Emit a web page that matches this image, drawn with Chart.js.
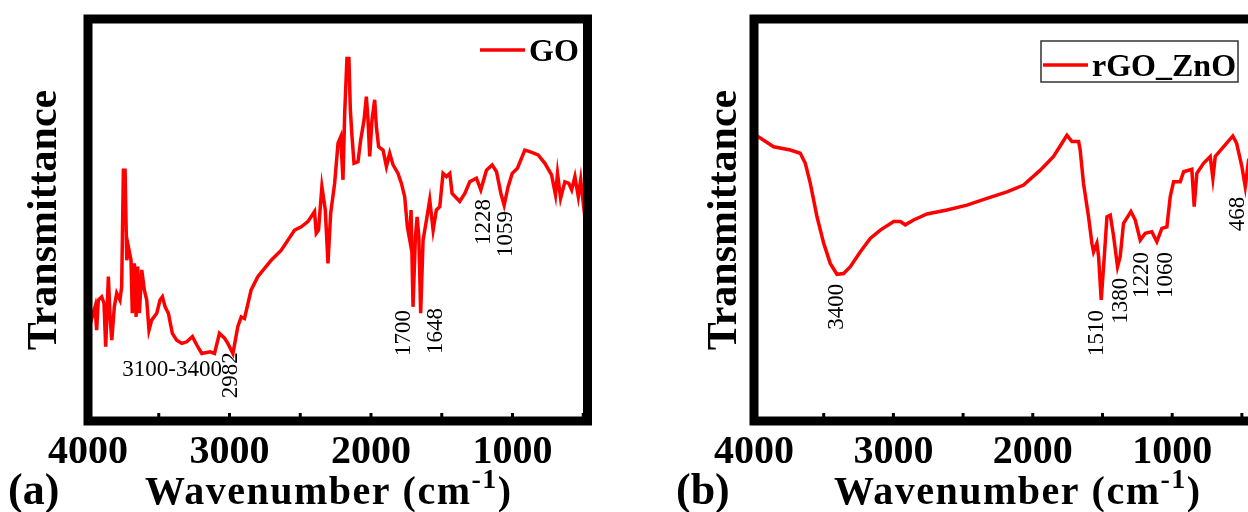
<!DOCTYPE html>
<html lang="en">
<head>
<meta charset="utf-8">
<title>FTIR GO / rGO_ZnO</title>
<script src="https://cdn.jsdelivr.net/npm/chart.js@4.4.1/dist/chart.umd.min.js"></script>
<style>
  html, body { margin: 0; padding: 0; background: #fff; overflow: hidden; }
  #wrap { position: relative; width: 1248px; height: 512px; overflow: hidden; }
  canvas { position: absolute; top: 0; }
  #chartA { left: 0; }
  #chartB { left: 620px; }
</style>
</head>
<body>
<div id="wrap">
  <canvas id="chartA" width="620" height="512"></canvas>
  <canvas id="chartB" width="700" height="512"></canvas>
</div>
<script>
"use strict";

// Datos del espectro GO (numero de onda, transmitancia relativa)
var goWave = [4000, 3986, 3970, 3950, 3939, 3927, 3903, 3887, 3875, 3856, 3844, 3832, 3814, 3797, 3774, 3762,
    3750, 3738, 3726, 3715, 3696, 3687, 3672, 3660, 3649, 3637, 3620, 3602, 3585, 3569, 3550, 3514, 3491, 3474,
    3455, 3432, 3404, 3373, 3337, 3302, 3262, 3231, 3196, 3137, 3106, 3071, 3035, 3012, 2976, 2941, 2917, 2894,
    2847, 2800, 2705, 2634, 2540, 2493, 2446, 2399, 2387, 2371, 2347, 2323, 2304, 2285, 2257, 2233, 2214, 2198,
    2186, 2170, 2156, 2146, 2134, 2120, 2092, 2073, 2049, 2033, 2021, 2009, 1993, 1974, 1962, 1946, 1915, 1891,
    1868, 1844, 1809, 1785, 1762, 1743, 1726, 1717, 1703, 1686, 1674, 1662, 1649, 1632, 1608, 1585, 1561, 1538,
    1514, 1491, 1467, 1443, 1427, 1373, 1337, 1302, 1255, 1224, 1184, 1144, 1113, 1082, 1059, 1031, 1002, 965,
    913, 878, 819, 771, 724, 696, 682, 660, 630, 602, 582, 559, 535, 518, 500, 481, 470];
var goTrans = [22.6, 28.4, 25.9, 28.4, 22.6, 30.1, 30.9, 29.3, 18.5, 35.9, 25.9, 20.1, 28.4, 31.8, 30.1, 33.4,
    62.4, 62.4, 40.0, 43.4, 40.0, 26.8, 39.2, 25.9, 38.4, 26.8, 37.6, 32.6, 30.1, 22.6, 25.1, 26.8, 30.1, 30.9,
    28.4, 26.8, 21.8, 20.1, 19.3, 19.7, 21.0, 18.9, 16.8, 17.2, 16.8, 21.8, 20.6, 19.3, 16.8, 23.5, 25.9, 25.5,
    32.6, 35.9, 40.0, 42.5, 47.5, 48.3, 49.6, 52.1, 46.7, 47.5, 58.3, 52.5, 39.2, 51.7, 59.1, 69.1, 70.7, 60.0,
    76.5, 90.2, 90.2, 77.4, 70.7, 64.1, 64.5, 69.9, 74.9, 80.7, 74.9, 65.8, 74.9, 79.9, 73.2, 68.2, 67.4, 63.3,
    66.6, 63.7, 61.6, 59.1, 55.8, 48.3, 45.0, 52.5, 28.4, 45.9, 50.8, 45.9, 26.8, 45.0, 50.0, 55.0, 47.5, 52.5,
    53.3, 61.6, 60.8, 61.6, 56.6, 54.6, 56.6, 59.5, 60.4, 57.5, 62.4, 63.7, 62.0, 56.6, 53.7, 58.3, 61.6, 62.9,
    67.4, 67.0, 66.2, 64.1, 61.2, 56.2, 61.6, 55.4, 59.5, 59.1, 57.5, 60.8, 55.8, 60.0, 54.2, 48.3, 52.0];

// Datos del espectro rGO_ZnO
var rgoWave = [4000, 3859, 3739, 3668, 3632, 3596, 3548, 3500, 3453, 3405, 3357, 3309, 3237, 3166, 3094, 2998,
    2950, 2915, 2855, 2759, 2616, 2472, 2329, 2185, 2066, 1946, 1851, 1791, 1755, 1719, 1671, 1660, 1636, 1600,
    1576, 1564, 1540, 1528, 1509, 1487, 1468, 1444, 1420, 1392, 1373, 1349, 1296, 1265, 1229, 1193, 1146, 1110,
    1074, 1038, 1014, 990, 942, 918, 859, 842, 823, 775, 727, 708, 691, 632, 565, 538, 500, 476, 452, 430, 413];
var rgoTrans = [71.4, 68.2, 67.4, 66.6, 64.1, 59.1, 50.8, 44.2, 39.2, 36.5, 36.7, 38.4, 42.1, 45.4, 47.5, 49.6,
    49.6, 48.8, 50.0, 51.5, 52.5, 53.7, 55.4, 57.0, 58.7, 62.4, 65.8, 69.1, 71.1, 69.5, 69.5, 67.4, 59.1, 50.8,
    44.2, 42.1, 44.2, 40.9, 30.1, 40.9, 50.8, 51.2, 45.9, 38.4, 40.9, 49.2, 52.1, 50.0, 45.0, 46.7, 47.1, 44.6,
    47.9, 48.3, 55.8, 59.5, 59.5, 62.0, 62.6, 53.3, 61.6, 64.1, 65.8, 60.4, 65.8, 68.2, 70.9, 69.1, 63.3, 58.3,
    64.9, 66.0, 65.5];

// Marcas del eje X
var xTickLabels = [4000, 3000, 2000, 1000];
var xMinorTicks = [3500, 2500, 1500, 500];

// Etiquetas de los picos (texto, posicion en numero de onda y transmitancia)
var goPeakLabels = ['3100-3400', '2982', '1700', '1648', '1228', '1059'];
var goPeakWave = [3406, 2989, 1765, 1539, 1200, 1044];
var goPeakTrans = [12.7, 11.4, 21.9, 22.4, 49.5, 46.5];
var rgoPeakLabels = ['3400', '1510', '1380', '1220', '1060', '468'];
var rgoPeakWave = [3402, 1537, 1365, 1214, 1042, 526];
var rgoPeakTrans = [28.4, 21.9, 29.9, 36.3, 36.3, 51.5];

var SERIF = '"Liberation Serif", "Times New Roman", serif';

// Plugin: marco grueso, marcas internas, leyenda, etiquetas de picos y titulos
var decoraciones = {
    id: 'decoraciones',
    afterDatasetsDraw: function (chart) {
        var o = chart.options.plugins.decoraciones;
        var ctx = chart.ctx;
        var a = chart.chartArea;
        var xs = chart.scales.x;
        var ys = chart.scales.y;
        ctx.save();

        // Etiquetas de picos
        ctx.fillStyle = '#000';
        ctx.font = '23px ' + SERIF;
        ctx.textAlign = 'center';
        ctx.textBaseline = 'middle';
        o.peakLabels.forEach(function (txt, i) {
            var px = xs.getPixelForValue(o.peakWave[i]);
            var py = ys.getPixelForValue(o.peakTrans[i]);
            ctx.save();
            ctx.translate(px, py);
            if (txt.indexOf('-') < 0) {
                ctx.rotate(-Math.PI / 2); // texto vertical
            }
            ctx.fillText(txt, 0, 0);
            ctx.restore();
        });

        // Marco
        ctx.lineWidth = 9;
        ctx.strokeStyle = '#000';
        ctx.strokeRect(a.left, a.top, a.right - a.left, a.bottom - a.top);

        // Marcas hacia dentro en el eje inferior
        ctx.lineWidth = 3;
        xTickLabels.concat(xMinorTicks).forEach(function (v) {
            var px = xs.getPixelForValue(v);
            ctx.beginPath();
            ctx.moveTo(px, a.bottom);
            ctx.lineTo(px, a.bottom - 8);
            ctx.stroke();
        });

        // Leyenda
        var lg = o.legend;
        if (lg.box) {
            ctx.lineWidth = 1.5;
            ctx.strokeStyle = '#333';
            ctx.strokeRect(lg.box[0], lg.box[1], lg.box[2], lg.box[3]);
        }
        ctx.lineWidth = 3.5;
        ctx.strokeStyle = '#ff0000';
        ctx.beginPath();
        ctx.moveTo(lg.x, lg.y);
        ctx.lineTo(lg.x + 45, lg.y);
        ctx.stroke();
        ctx.fillStyle = '#000';
        ctx.font = 'bold 32px ' + SERIF;
        ctx.textAlign = 'left';
        ctx.textBaseline = 'alphabetic';
        ctx.fillText(chart.data.datasets[0].label, lg.x + 49, lg.y + 11);

        // Titulo del eje X con superindice
        var t = o.xTitle;
        ctx.font = 'bold 40px ' + SERIF;
        ctx.letterSpacing = '1.5px';
        var base = 'Wavenumber (cm';
        ctx.fillText(base, t.x, t.y);
        var w = ctx.measureText(base).width;
        ctx.font = 'bold 28px ' + SERIF;
        ctx.fillText('-1', w + t.x, t.y - 16);
        var w2 = ctx.measureText('-1').width;
        ctx.font = 'bold 40px ' + SERIF;
        ctx.fillText(')', t.x + w + w2, t.y);

        // Letra del panel
        ctx.letterSpacing = '0px';
        ctx.font = 'bold 44px ' + SERIF;
        ctx.fillText(o.panel, o.panelX, t.y);
        ctx.restore();
    }
};

// Crea un panel del espectro
function crearGrafico(id, wave, trans, nombre, opts) {
    var puntos = wave.map(function (w, i) {
        return {x: w, y: trans[i]};
    });
    return new Chart(document.getElementById(id), {
        type: 'line',
        data: {
            datasets: [{
                label: nombre,
                data: puntos,
                borderColor: '#ff0000',
                borderWidth: 3.5,
                pointRadius: 0,
                tension: 0,
                fill: false
            }]
        },
        options: {
            responsive: false,
            animation: false,
            devicePixelRatio: 1,
            layout: {padding: {left: 0, top: 19, right: opts.padRight, bottom: 0}},
            plugins: {
                legend: {display: false},
                tooltip: {enabled: false},
                decoraciones: opts.deco
            },
            scales: {
                x: {
                    type: 'linear',
                    reverse: true,
                    min: opts.xMin,
                    max: 4000,
                    afterBuildTicks: function (s) {
                        s.ticks = xTickLabels.map(function (v) { return {value: v}; });
                    },
                    afterFit: function (s) { s.height = 91; },
                    grid: {display: false, drawTicks: false},
                    border: {display: false},
                    ticks: {
                        autoSkip: false,
                        maxRotation: 0,
                        padding: 8,
                        color: '#000',
                        font: {family: SERIF, size: 40, weight: 'bold'},
                        callback: function (v) { return String(v); } // sin separador de miles
                    }
                },
                y: {
                    min: 0,
                    max: 100,
                    afterFit: function (s) { s.width = opts.yWidth; },
                    grid: {display: false},
                    border: {display: false},
                    ticks: {display: false},
                    title: {
                        display: true,
                        text: 'Transmittance',
                        color: '#000',
                        padding: {top: opts.titlePad, bottom: 0},
                        font: {family: SERIF, size: 42, weight: 'bold'}
                    }
                }
            }
        },
        plugins: [decoraciones]
    });
}

crearGrafico('chartA', goWave, goTrans, 'GO', {
    padRight: 32.5,
    xMin: 470,
    yWidth: 88,
    titlePad: 20,
    deco: {
        peakLabels: goPeakLabels, peakWave: goPeakWave, peakTrans: goPeakTrans,
        legend: {x: 480, y: 50, box: null},
        xTitle: {x: 145, y: 504},
        panel: '(a)', panelX: 8
    }
});

crearGrafico('chartB', rgoWave, rgoTrans, 'rGO_ZnO', {
    padRight: 66,
    xMin: 413,
    yWidth: 134,
    titlePad: 80,
    deco: {
        peakLabels: rgoPeakLabels, peakWave: rgoPeakWave, peakTrans: rgoPeakTrans,
        legend: {x: 423, y: 65, box: [421, 41, 197, 41]},
        xTitle: {x: 214, y: 504},
        panel: '(b)', panelX: 56
    }
});
</script>
</body>
</html>
